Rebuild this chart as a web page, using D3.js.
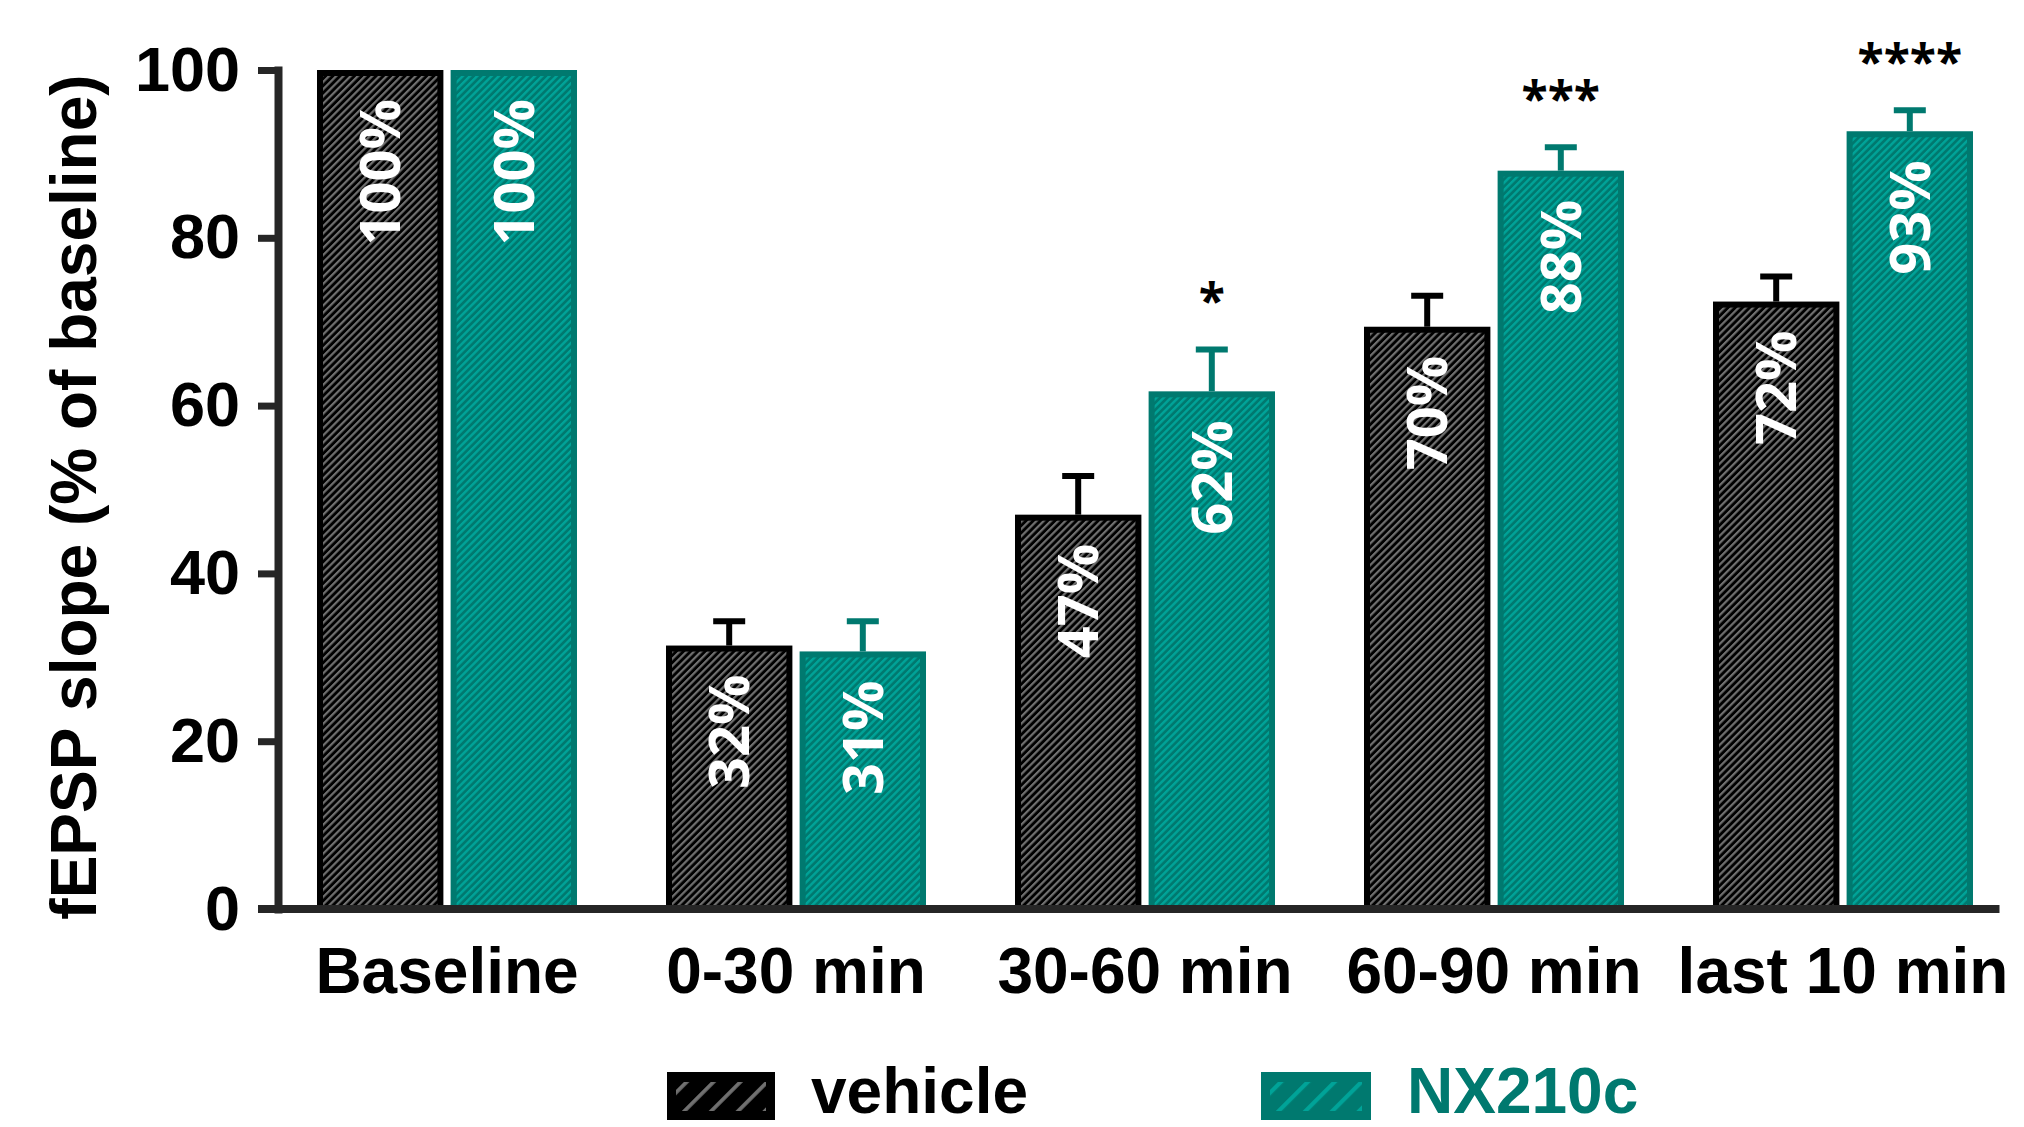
<!DOCTYPE html>
<html>
<head>
<meta charset="utf-8">
<script src="https://cdn.jsdelivr.net/npm/d3@7"></script>
<style>
body{margin:0;background:#fff;}
svg{display:block;}
</style>
</head>
<body>
<script>
//categorie e serie
var categories = ["Baseline", "0-30 min", "30-60 min", "60-90 min", "last 10 min"];
var series = ["vehicle", "NX210c"];

//valori (% of baseline) e SEM
var vehicleMean = [100, 31.4, 47.0, 69.4, 72.4];
var vehicleSem = [0, 2.9, 4.6, 3.7, 3.0];
var vehicleLabels = ["100%", "32%", "47%", "70%", "72%"];
var nxMean = [100, 30.7, 61.7, 88.0, 92.7];
var nxSem = [0, 3.6, 5.0, 2.8, 2.5];
var nxLabels = ["100%", "31%", "62%", "88%", "93%"];
var stars = ["", "", "*", "***", "****"];
var yTicks = [0, 20, 40, 60, 80, 100];

//colori
var teal = "#00796f",
    tealStripe = "#00a398",
    black = "#000000",
    blackStripe = "#707070",
    axisColor = "#262626";

var width = 2024,
    height = 1127;

var svg = d3.select("body").append("svg")
    .attr("width", width)
    .attr("height", height);

//pattern tratteggiati
var defs = svg.append("defs");
function hatch(id, bg, fg, size, line) {
  var p = defs.append("pattern")
      .attr("id", id)
      .attr("patternUnits", "userSpaceOnUse")
      .attr("width", size)
      .attr("height", size)
      .attr("patternTransform", "rotate(45)");
  p.append("rect").attr("width", size).attr("height", size).attr("fill", bg);
  p.append("rect").attr("width", line).attr("height", size).attr("fill", fg);
}
hatch("hVehicle", black, blackStripe, 5.1, 2.2);
hatch("hNX", teal, tealStripe, 5.1, 2.4);
hatch("lVehicle", black, blackStripe, 19, 3.8);
hatch("lNX", teal, tealStripe, 19, 4.2);

var color = {vehicle: black, NX210c: teal},
    fillId = {vehicle: "url(#hVehicle)", NX210c: "url(#hNX)"};

//dati per le barre
var rows = [];
categories.forEach(function(c, i) {
  rows.push({cat: c, ser: "vehicle", mean: vehicleMean[i], sem: vehicleSem[i], label: vehicleLabels[i], star: ""});
  rows.push({cat: c, ser: "NX210c", mean: nxMean[i], sem: nxSem[i], label: nxLabels[i], star: stars[i]});
});

//scale
var y = d3.scaleLinear().domain([0, 100]).range([909, 70]);
var x0 = d3.scaleBand().domain(categories)
    .range([272.5, 2017.5])
    .paddingInner(0.255)
    .paddingOuter(0.1275);
var x1 = d3.scaleBand().domain(series)
    .range([0, x0.bandwidth()])
    .paddingInner(0.054);

var sw = 6; //bordo barre
var bw = x1.bandwidth();

//BARRE
var bars = svg.append("g").attr("class", "bars")
  .selectAll("g")
  .data(rows)
  .enter()
  .append("g")
    .attr("transform", function(d) { return "translate(" + (x0(d.cat) + x1(d.ser)) + ",0)"; });

bars.append("rect")
    .attr("x", sw / 2)
    .attr("width", bw - sw)
    .attr("y", function(d) { return y(d.mean) + sw / 2; })
    .attr("height", function(d) { return y(0) - y(d.mean) - sw / 2; })
    .attr("fill", function(d) { return fillId[d.ser]; })
    .attr("stroke", function(d) { return color[d.ser]; })
    .attr("stroke-width", sw);

//error bar (solo verso l'alto)
var err = bars.filter(function(d) { return d.sem > 0; });
err.append("line")
    .attr("x1", bw / 2).attr("x2", bw / 2)
    .attr("y1", function(d) { return y(d.mean); })
    .attr("y2", function(d) { return y(d.mean + d.sem); })
    .attr("stroke", function(d) { return color[d.ser]; })
    .attr("stroke-width", 6);
err.append("line")
    .attr("x1", bw / 2 - 16).attr("x2", bw / 2 + 16)
    .attr("y1", function(d) { return y(d.mean + d.sem); })
    .attr("y2", function(d) { return y(d.mean + d.sem); })
    .attr("stroke", function(d) { return color[d.ser]; })
    .attr("stroke-width", 6);

//etichette percentuali
bars.append("text")
    .attr("transform", function(d) { return "translate(" + (bw / 2) + "," + (y(d.mean) + 29) + ")rotate(-90)"; })
    .attr("text-anchor", "end")
    .attr("dy", "0.36em")
    .attr("font-family", "'Open Sans', sans-serif")
    .attr("font-weight", 700)
    .attr("font-size", "56px")
    .attr("fill", "#ffffff")
    .text(function(d) { return d.label; });

//asterischi
bars.filter(function(d) { return d.star !== ""; })
  .append("text")
    .attr("x", bw / 2)
    .attr("y", function(d) { return y(d.mean + d.sem) - 31; })
    .attr("text-anchor", "middle")
    .attr("font-family", "'Open Sans', sans-serif")
    .attr("font-weight", 700)
    .attr("font-size", "48px")
    .attr("fill", "#000")
    .text(function(d) { return d.star; });

//ASSI
var yAxis = svg.append("g")
    .attr("transform", "translate(278,0)")
    .call(d3.axisLeft(y).tickValues(yTicks).tickSize(20).tickSizeOuter(0).tickPadding(18));
yAxis.select(".domain")
    .attr("stroke", axisColor)
    .attr("stroke-width", 8)
    .attr("stroke-linecap", "square");
yAxis.selectAll(".tick line")
    .attr("stroke", axisColor)
    .attr("stroke-width", 7);
yAxis.selectAll(".tick text")
    .attr("font-family", "'Liberation Sans', Arial, sans-serif")
    .attr("font-weight", 700)
    .attr("font-size", "63px")
    .attr("fill", "#000");

var xAxis = svg.append("g")
    .attr("transform", "translate(0," + y(0) + ")")
    .call(d3.axisBottom(x0).tickSize(0).tickPadding(39));
xAxis.select(".domain")
    .attr("d", "M258,0H" + (x0.range()[1] - 18))
    .attr("stroke", axisColor)
    .attr("stroke-width", 8);
xAxis.selectAll(".tick text")
    .attr("font-family", "'Liberation Sans', Arial, sans-serif")
    .attr("font-weight", 700)
    .attr("font-size", "64px")
    .attr("fill", "#000");

//titolo asse y
svg.append("text")
    .attr("transform", "translate(96,497)rotate(-90)")
    .attr("text-anchor", "middle")
    .attr("font-family", "'Liberation Sans', Arial, sans-serif")
    .attr("font-weight", 700)
    .attr("font-size", "64px")
    .attr("fill", "#000")
    .text("fEPSP slope (% of baseline)");

//LEGENDA
var legendData = [
  {name: "vehicle", x: 667, w: 108, fill: black, pat: "url(#lVehicle)", text: "#000"},
  {name: "NX210c", x: 1261, w: 110, fill: teal, pat: "url(#lNX)", text: teal}
];
var leg = svg.append("g").attr("class", "legend")
  .selectAll("g")
  .data(legendData)
  .enter()
  .append("g")
    .attr("transform", function(d) { return "translate(" + d.x + ",1072)"; });
leg.append("rect")
    .attr("width", function(d) { return d.w; })
    .attr("height", 48)
    .attr("fill", function(d) { return d.fill; });
leg.append("rect")
    .attr("x", 9)
    .attr("y", 10)
    .attr("width", function(d) { return d.w - 18; })
    .attr("height", 29)
    .attr("fill", function(d) { return d.pat; });
leg.append("text")
    .attr("x", function(d) { return d.w + 36; })
    .attr("y", 41)
    .attr("font-family", "'Liberation Sans', Arial, sans-serif")
    .attr("font-weight", 700)
    .attr("font-size", "64px")
    .attr("fill", function(d) { return d.text; })
    .text(function(d) { return d.name; });
</script>
</body>
</html>
